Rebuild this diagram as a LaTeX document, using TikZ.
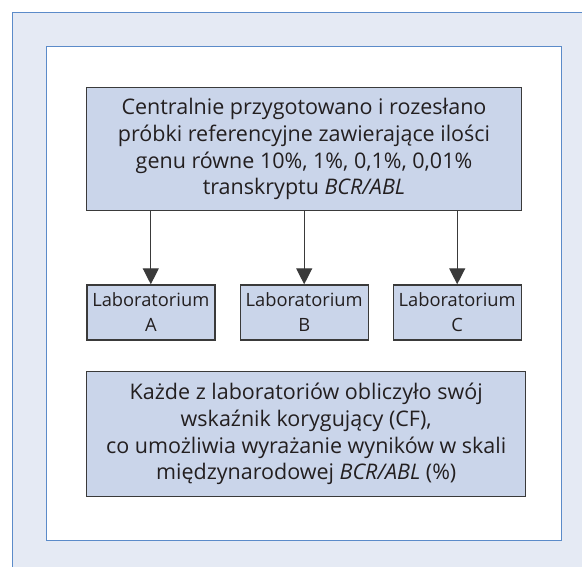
\documentclass[tikz,border=0pt]{standalone}
\usepackage{fontspec}
\setmainfont{Open Sans}
\usetikzlibrary{arrows.meta}
\definecolor{panelfill}{HTML}{E5EAF4}
\definecolor{panelline}{HTML}{5B8BC9}
\definecolor{boxfill}{HTML}{CAD5EA}
\definecolor{boxline}{HTML}{3A3A3A}
\definecolor{inkgray}{HTML}{231F20}
\begin{document}
\begin{tikzpicture}[x=1pt, y=-1pt,
    panel/.style={fill=panelfill, draw=panelline, line width=1.5pt},
    sheet/.style={fill=white, draw=panelline, line width=1.5pt},
    bigbox/.style={draw=boxline, fill=boxfill, line width=1.4pt, align=center,
        text=inkgray, inner sep=0pt, font=\fontsize{21.5}{26.7}\selectfont},
    labbox/.style={bigbox, minimum width=128pt, minimum height=55pt,
        font=\fontsize{18.3}{25}\selectfont},
    arr/.style={-{Triangle[length=16pt, width=16pt]}, line width=1.3pt, draw=boxline}
]
    \useasboundingbox (0,0) rectangle (582,567);
    \clip (0,0) rectangle (582,567);

    % frames
    \draw[panel] (12.7,12.7) rectangle (600,600);
    \draw[sheet] (46.7,46.3) rectangle (561.5,540.3);

    % boxes
    \node[bigbox, minimum width=435pt, minimum height=123pt] (samples) at (304,149.2)
        {Centralnie przygotowano i rozesłano\\
         próbki referencyjne zawierające ilości\\
         genu równe 10\%, 1\%, 0,1\%, 0,01\%\\
         transkryptu \textit{BCR/ABL}};
    \node[labbox] (labA) at (150.8,312.5) {Laboratorium\\A};
    \node[labbox] (labB) at (304.2,312.5) {Laboratorium\\B};
    \node[labbox] (labC) at (457.2,312.5) {Laboratorium\\C};
    \node[bigbox, minimum width=439pt, minimum height=125pt] (factor) at (306.2,434.2)
        {Każde z laboratoriów obliczyło swój\\
         wskaźnik korygujący (CF),\\
         co umożliwia wyrażanie wyników w skali\\
         międzynarodowej \textit{BCR/ABL} (\%)};

    % arrows
    \draw[arr] (samples.south -| labA.north) -- (labA.north);
    \draw[arr] (samples.south -| labB.north) -- (labB.north);
    \draw[arr] (samples.south -| labC.north) -- (labC.north);
\end{tikzpicture}
\end{document}
